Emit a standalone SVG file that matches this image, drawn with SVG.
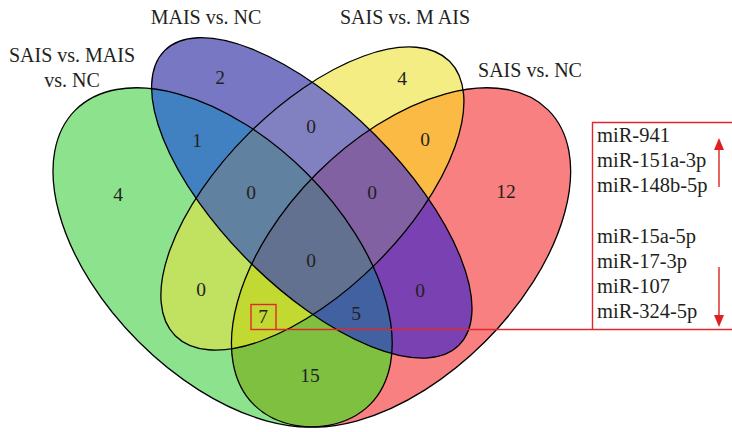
<svg xmlns="http://www.w3.org/2000/svg" xmlns:xlink="http://www.w3.org/1999/xlink" width="732" height="432" viewBox="0 0 732 432">
<style>
.t{font-family:"Liberation Serif","Times New Roman",serif;font-size:20px;fill:#231f20}
.n{font-family:"Liberation Serif","Times New Roman",serif;font-size:19.5px;fill:#231f20;text-anchor:middle}
.m{font-family:"Liberation Serif","Times New Roman",serif;font-size:20.5px;fill:#231f20}
.o{fill:none;stroke:#000;stroke-width:1.3}
.r{fill:none;stroke:#e0282c;stroke-width:1.4}
</style>
<defs>
<ellipse id="e1" cx="222.6" cy="257.4" rx="208.25" ry="119" transform="rotate(45 222.6 257.4)"/>
<ellipse id="e2" cx="311.8" cy="197.9" rx="208.25" ry="89.25" transform="rotate(45 311.8 197.9)"/>
<ellipse id="e3" cx="312.4" cy="198.5" rx="194" ry="91" transform="rotate(-45 312.4 198.5)"/>
<ellipse id="e4" cx="401.05" cy="257.4" rx="208.25" ry="119" transform="rotate(-45 401.05 257.4)"/>
<clipPath id="c2"><use xlink:href="#e2"/></clipPath>
<clipPath id="c3"><use xlink:href="#e3"/></clipPath>
<clipPath id="c4"><use xlink:href="#e4"/></clipPath>
</defs>
<g id="fills">
<use xlink:href="#e1" fill="#8de28d"/>
<use xlink:href="#e2" fill="#7777c3"/>
<use xlink:href="#e3" fill="#f3ed83"/>
<use xlink:href="#e4" fill="#f98080"/>
<use xlink:href="#e1" clip-path="url(#c2)" fill="#4181c1"/>
<use xlink:href="#e1" clip-path="url(#c3)" fill="#c1e161"/>
<use xlink:href="#e1" clip-path="url(#c4)" fill="#80c040"/>
<use xlink:href="#e2" clip-path="url(#c3)" fill="#8181c1"/>
<use xlink:href="#e2" clip-path="url(#c4)" fill="#7941b1"/>
<use xlink:href="#e3" clip-path="url(#c4)" fill="#fbba44"/>
<g clip-path="url(#c3)"><use xlink:href="#e1" clip-path="url(#c2)" fill="#6181a1"/></g>
<g clip-path="url(#c4)"><use xlink:href="#e1" clip-path="url(#c2)" fill="#4161a1"/></g>
<g clip-path="url(#c4)"><use xlink:href="#e1" clip-path="url(#c3)" fill="#c1d931"/></g>
<g clip-path="url(#c4)"><use xlink:href="#e2" clip-path="url(#c3)" fill="#8161a1"/></g>
<g clip-path="url(#c4)"><g clip-path="url(#c3)"><use xlink:href="#e1" clip-path="url(#c2)" fill="#61718f"/></g></g>
</g>
<g id="set1"><use xlink:href="#e1" class="o"/>
<text class="t" x="72" y="62" text-anchor="middle">SAIS vs. MAIS</text>
<text class="t" x="72" y="87" text-anchor="middle">vs. NC</text></g>
<g id="set2"><use xlink:href="#e2" class="o"/>
<text class="t" x="206" y="24" text-anchor="middle">MAIS vs. NC</text></g>
<g id="set3"><use xlink:href="#e3" class="o"/>
<text class="t" x="405" y="24" text-anchor="middle">SAIS vs. M AIS</text></g>
<g id="set4"><use xlink:href="#e4" class="o"/>
<text class="t" x="530" y="77" text-anchor="middle">SAIS vs. NC</text></g>
<g id="counts">
<text class="n" x="118" y="201">4</text>
<text class="n" x="220" y="84">2</text>
<text class="n" x="402" y="85">4</text>
<text class="n" x="506" y="198">12</text>
<text class="n" x="197" y="147">1</text>
<text class="n" x="311" y="133">0</text>
<text class="n" x="425" y="146">0</text>
<text class="n" x="251" y="199">0</text>
<text class="n" x="372" y="199">0</text>
<text class="n" x="311" y="267">0</text>
<text class="n" x="201" y="296">0</text>
<text class="n" x="263" y="323">7</text>
<text class="n" x="356" y="320">5</text>
<text class="n" x="420" y="297">0</text>
<text class="n" x="310" y="382">15</text>
</g>
<g id="connectors">
<rect class="r" x="251" y="304.5" width="25" height="25"/>
<polyline class="r" points="276,329.5 732,329.5"/>
<polyline class="r" points="732,122.5 592.5,122.5 592.5,329.5"/>
<line x1="719" y1="187" x2="719" y2="148" stroke="#e02020" stroke-width="1.4"/>
<polygon points="719,138 714,150 724,150" fill="#e02020"/>
<line x1="719" y1="267" x2="719" y2="317" stroke="#e02020" stroke-width="1.4"/>
<polygon points="719,327 714,315 724,315" fill="#e02020"/>
</g>
<g id="mirs">
<text class="m" x="597" y="142">miR-941</text>
<text class="m" x="597" y="167">miR-151a-3p</text>
<text class="m" x="597" y="192">miR-148b-5p</text>
<text class="m" x="597" y="243">miR-15a-5p</text>
<text class="m" x="597" y="268">miR-17-3p</text>
<text class="m" x="597" y="293">miR-107</text>
<text class="m" x="597" y="318">miR-324-5p</text>
</g>
</svg>
